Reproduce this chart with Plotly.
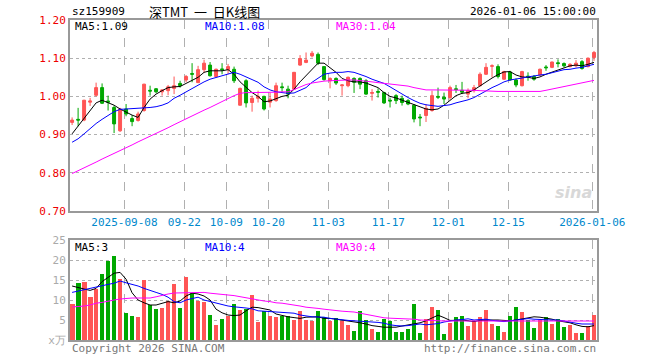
import plotly.graph_objects as go

# ---------------- data ----------------
opens = [0.932,0.940,0.938,0.985,1.003,1.023,0.988,0.971,0.910,0.967,
         0.942,0.937,0.963,1.016,1.020,1.012,1.015,1.021,1.034,1.043,
         1.060,1.036,1.070,1.082,1.052,1.072,1.070,1.071,0.977,1.041,
         0.984,0.995,1.000,0.985,0.989,1.025,1.019,1.019,1.082,1.089,
         1.106,1.110,1.078,1.041,1.047,1.028,1.028,1.047,1.047,1.041,
         1.008,1.013,1.010,0.990,1.002,0.995,0.989,0.977,0.946,0.950,
         0.963,1.000,0.998,0.997,1.020,1.016,1.006,1.015,1.028,1.058,
         1.079,1.078,1.045,1.064,1.043,1.028,1.053,1.052,1.056,1.077,
         1.076,1.088,1.086,1.078,1.080,1.091,1.078,1.102]
closes = [0.938,0.938,0.990,0.988,1.023,0.982,0.985,0.928,0.967,0.954,
          0.934,0.954,1.032,1.014,1.012,1.017,1.025,1.028,1.028,1.052,
          1.058,1.070,1.087,1.054,1.071,1.070,1.078,1.041,1.021,0.983,
          0.995,1.000,0.967,0.993,1.028,1.023,1.006,1.063,1.099,1.095,
          1.113,1.087,1.044,1.047,1.035,1.030,1.050,1.037,1.032,1.006,
          1.010,1.011,0.983,0.988,0.989,0.984,0.980,0.941,0.944,0.969,
          1.002,0.998,0.993,1.023,1.018,1.011,1.015,1.023,1.058,1.076,
          1.080,1.052,1.065,1.043,1.030,1.065,1.051,1.045,1.071,1.075,
          1.090,1.086,1.080,1.084,1.087,1.073,1.100,1.115]
highs = [0.945,0.970,0.991,0.996,1.036,1.034,1.002,0.976,0.970,0.980,
         0.951,0.960,1.033,1.028,1.022,1.019,1.030,1.052,1.041,1.056,
         1.087,1.080,1.096,1.090,1.073,1.087,1.085,1.078,1.023,1.045,
         1.002,1.015,1.002,1.010,1.036,1.036,1.028,1.064,1.108,1.115,
         1.119,1.115,1.078,1.050,1.050,1.032,1.052,1.050,1.050,1.045,
         1.019,1.021,1.012,0.997,1.006,1.002,0.993,0.980,0.954,0.980,
         1.015,1.023,1.010,1.028,1.030,1.038,1.021,1.030,1.063,1.087,
         1.084,1.084,1.067,1.067,1.047,1.067,1.063,1.056,1.073,1.082,
         1.091,1.097,1.089,1.087,1.095,1.095,1.102,1.119]
lows = [0.925,0.922,0.935,0.975,1.000,0.980,0.963,0.904,0.907,0.948,
        0.922,0.934,0.960,1.002,1.008,1.002,1.003,1.006,1.023,1.037,
        1.037,1.035,1.062,1.052,1.050,1.058,1.058,1.035,0.976,0.971,
        0.960,0.984,0.963,0.971,0.986,1.012,0.995,1.017,1.080,1.087,
        1.102,1.082,1.041,1.021,1.030,1.002,1.024,1.009,1.019,1.004,
        0.989,0.997,0.980,0.971,0.980,0.976,0.977,0.932,0.922,0.933,
        0.960,0.993,0.980,0.991,1.009,1.006,0.995,1.010,1.026,1.056,
        1.050,1.047,1.043,1.041,1.024,1.026,1.041,1.041,1.054,1.067,
        1.074,1.076,1.076,1.076,1.076,1.070,1.076,1.093]

ma5 = [0.902,0.922,0.941,0.963,0.983,0.990,0.984,0.977,0.967,0.958,
       0.951,0.945,0.971,0.993,1.006,1.015,1.023,1.025,1.026,1.034,
       1.041,1.050,1.063,1.067,1.067,1.067,1.070,1.058,1.038,1.023,
       1.010,1.000,0.986,0.988,0.995,1.000,1.003,1.019,1.038,1.054,
       1.071,1.087,1.087,1.076,1.063,1.047,1.041,1.038,1.038,1.035,
       1.030,1.023,1.010,1.000,0.996,0.990,0.984,0.977,0.971,0.967,
       0.965,0.967,0.977,0.990,1.002,1.008,1.010,1.017,1.028,1.037,
       1.048,1.057,1.064,1.065,1.056,1.051,1.050,1.047,1.051,1.058,
       1.064,1.069,1.076,1.080,1.082,1.080,1.084,1.089]
ma10 = [0.880,0.889,0.902,0.916,0.929,0.940,0.951,0.960,0.966,0.967,
        0.967,0.968,0.969,0.971,0.973,0.977,0.983,0.995,1.003,1.012,
        1.021,1.030,1.038,1.045,1.050,1.054,1.060,1.063,1.058,1.051,
        1.045,1.037,1.025,1.017,1.012,1.010,1.008,1.009,1.015,1.023,
        1.037,1.047,1.058,1.061,1.063,1.063,1.065,1.063,1.058,1.052,
        1.045,1.039,1.034,1.025,1.015,1.006,0.997,0.989,0.982,0.978,
        0.976,0.974,0.976,0.978,0.983,0.987,0.991,0.997,1.006,1.015,
        1.023,1.030,1.038,1.043,1.045,1.048,1.051,1.054,1.056,1.058,
        1.063,1.066,1.070,1.071,1.074,1.076,1.080,1.084]
ma30 = [0.798,0.805,0.812,0.820,0.828,0.836,0.843,0.851,0.858,0.866,
        0.873,0.881,0.888,0.896,0.903,0.911,0.918,0.926,0.934,0.941,
        0.949,0.956,0.964,0.971,0.979,0.987,0.995,1.002,1.008,1.010,
        1.010,1.010,1.011,1.011,1.011,1.012,1.012,1.018,1.025,1.031,
        1.035,1.038,1.040,1.041,1.042,1.043,1.043,1.043,1.042,1.040,
        1.038,1.036,1.034,1.032,1.030,1.029,1.027,1.023,1.019,1.017,
        1.017,1.017,1.017,1.017,1.017,1.017,1.017,1.016,1.015,1.014,
        1.013,1.013,1.013,1.013,1.013,1.013,1.013,1.013,1.013,1.016,
        1.019,1.022,1.025,1.028,1.031,1.035,1.038,1.042]

volume = [9.0,14.2,14.4,10.7,12.7,16.5,19.75,21.0,15.25,6.7,
          6.0,5.75,15.0,8.75,7.75,8.0,9.8,14.0,8.0,15.75,
          11.8,9.75,9.5,6.25,3.75,5.25,6.0,9.0,7.5,7.75,
          11.25,4.6,7.25,6.1,5.75,6.1,6.0,5.0,7.25,5.0,
          4.8,7.25,5.8,4.75,5.4,4.8,3.75,2.2,7.25,5.0,
          2.75,2.0,5.25,4.75,2.0,2.0,2.75,9.0,1.8,5.25,
          8.25,7.5,1.5,4.3,5.7,6.0,3.5,4.8,5.8,7.5,
          4.0,3.5,2.0,6.0,8.25,7.0,5.0,2.9,5.0,5.7,
          4.0,5.2,3.2,3.7,1.8,1.8,3.6,6.25]
vma5 = [13.5,13.2,12.75,12.4,12.9,14.6,15.7,16.7,16.9,15.2,
        11.8,10.0,9.3,8.75,8.75,9.2,9.6,9.3,9.75,11.0,
        11.7,11.5,11.0,10.0,7.7,6.8,6.25,6.1,6.25,7.3,
        8.2,8.1,7.8,7.5,6.5,6.1,5.8,5.6,5.4,5.7,
        5.8,5.8,5.4,5.4,5.2,5.0,4.8,4.6,4.3,4.0,
        3.6,3.4,3.2,3.2,3.2,3.5,3.8,4.0,4.3,4.8,
        5.6,6.2,5.6,4.9,4.9,5.0,4.8,4.6,4.9,5.0,
        5.0,5.0,4.9,4.8,5.0,5.3,5.6,5.8,5.7,5.5,
        5.2,4.8,4.6,4.3,3.8,3.4,3.3,3.6]
vma10 = [11.9,12.25,12.5,12.9,13.3,13.7,13.9,14.2,14.75,14.3,
         13.9,13.5,12.9,12.3,11.9,11.4,10.7,9.6,9.3,10.0,
         10.4,10.7,10.0,9.6,9.2,8.75,8.5,8.3,8.2,8.0,
         7.8,7.3,7.2,7.1,7.0,7.0,6.9,6.7,6.25,6.0,
         5.8,5.75,5.7,5.4,5.2,5.0,4.9,4.8,4.7,4.65,
         4.6,4.4,4.2,3.8,3.6,3.5,3.6,3.8,4.0,3.8,
         3.9,4.1,4.5,4.8,5.0,5.1,5.3,5.0,5.1,5.2,
         4.9,4.75,4.6,4.8,5.0,5.3,5.35,5.2,5.1,5.0,
         5.0,5.0,4.7,4.4,4.2,4.0,4.0,4.0]
vma30 = [8.25,8.3,8.5,8.75,9.2,9.4,9.75,10.0,10.25,10.4,
         10.5,10.5,10.5,10.5,10.8,11.2,11.5,11.75,11.8,11.9,
         11.9,11.9,11.9,11.7,11.6,11.4,11.25,11.1,10.8,10.6,
         10.25,10.0,9.75,9.6,9.3,9.2,9.0,8.75,8.5,8.2,
         8.1,7.9,7.7,7.5,7.3,7.2,7.1,7.0,6.7,6.4,
         6.0,5.7,5.55,5.45,5.4,5.35,5.3,5.2,5.0,4.9,
         4.8,4.75,4.75,4.75,4.75,4.75,4.75,4.75,4.75,4.75,
         4.75,4.7,4.6,4.65,4.75,4.75,4.75,4.75,4.75,4.75,
         4.75,4.75,4.75,4.75,4.75,4.75,4.75,4.75]

tick_index = [9, 19, 26, 33, 43, 53, 63, 73, 87]
tick_labels = ["2025-09-08", "09-22", "10-09", "10-20", "11-03",
               "11-17", "12-01", "12-15", "2026-01-06"]
price_ticks = [0.70, 0.80, 0.90, 1.00, 1.10, 1.20]
vol_ticks = [0, 5, 10, 15, 20, 25]
vol_tick_labels = ["x万", "5", "10", "15", "20", "25"]

# ---------------- figure ----------------
W, H = 660, 360
RED = "#ff5555"
GREEN = "#00a800"
MONO = "DejaVu Sans Mono"

n = len(closes)
xs = list(range(n))
vcolors = [RED if c >= o else GREEN for o, c in zip(opens, closes)]

fig = go.Figure()
fig.add_trace(go.Candlestick(
    x=xs, open=opens, high=highs, low=lows, close=closes,
    increasing=dict(line=dict(color=RED, width=1), fillcolor=RED),
    decreasing=dict(line=dict(color=GREEN, width=1), fillcolor=GREEN),
    whiskerwidth=0, xaxis="x", yaxis="y", hoverinfo="skip"))
for arr, col in [(ma5, "black"), (ma10, "#0000ff"), (ma30, "#ff00ff")]:
    fig.add_trace(go.Scatter(x=xs, y=arr, mode="lines",
                             line=dict(color=col, width=1),
                             xaxis="x", yaxis="y", hoverinfo="skip"))
fig.add_trace(go.Bar(x=xs, y=volume, marker=dict(color=vcolors, line=dict(width=0)),
                     width=0.8, xaxis="x2", yaxis="y2", hoverinfo="skip"))
for arr, col in [(vma5, "black"), (vma10, "#0000ff"), (vma30, "#ff00ff")]:
    fig.add_trace(go.Scatter(x=xs, y=arr, mode="lines",
                             line=dict(color=col, width=1),
                             xaxis="x2", yaxis="y2", hoverinfo="skip"))

x0, x1 = 70 / W, 597 / W
tickpos = [t - 0.28 for t in tick_index]
xr = [-0.35, n - 0.5]
frame = dict(showline=True, mirror=True, linecolor="#999999", linewidth=2,
             automargin=False)

fig.update_layout(
    width=W, height=H, margin=dict(l=0, r=0, t=0, b=0, autoexpand=False),
    paper_bgcolor="white", plot_bgcolor="white", showlegend=False,
    bargap=0,
    xaxis=dict(domain=[x0, x1], range=xr, tickvals=tickpos, ticktext=tick_labels,
               showgrid=True, gridcolor="#b0b0b0", griddash="dash", gridwidth=1,
               tickfont=dict(family=MONO, size=11, color="#0088cc"),
               ticks="", zeroline=False, rangeslider=dict(visible=False),
               anchor="y", fixedrange=True, **frame),
    yaxis=dict(domain=[1 - 211 / H, 1 - 20 / H], range=[0.70, 1.20],
               tickvals=price_ticks, ticktext=[f"{v:.2f}" for v in price_ticks],
               showgrid=True, gridcolor="#b0b0b0", griddash="dot", gridwidth=1,
               tickfont=dict(family=MONO, size=11, color="#ee0000"),
               ticks="", zeroline=False, anchor="x", fixedrange=True, **frame),
    xaxis2=dict(domain=[x0, x1], range=xr, tickvals=tickpos, showticklabels=False,
                showgrid=True, gridcolor="#b0b0b0", griddash="dash", gridwidth=1,
                ticks="", zeroline=False, anchor="y2", fixedrange=True, **frame),
    yaxis2=dict(domain=[1 - 340 / H, 1 - 240 / H], range=[0, 25],
                tickvals=vol_ticks, ticktext=vol_tick_labels,
                showgrid=True, gridcolor="#b0b0b0", griddash="dot", gridwidth=1,
                tickfont=dict(family=MONO, size=11, color="#aaaaaa"),
                ticks="", zeroline=False, anchor="x2", fixedrange=True, **frame),
)

def label(x, y, text, color="black", size=10, xanchor="left", family=MONO, **kw):
    fig.add_annotation(x=x / W, y=1 - y / H, xref="paper", yref="paper",
                       text=text, showarrow=False, xanchor=xanchor, yanchor="middle",
                       font=dict(family=family, size=size, color=color), **kw)

label(70, 12, "sz159909", size=11)
label(147, 12, "深TMT\u00a0\u00a0一\u00a0\u00a0日K线图", size=13, xanchor="left",
      family="Noto Sans CJK SC")
label(598, 12, "2026-01-06 15:00:00", size=11, xanchor="right")
label(73, 27, f"MA5:{ma5[-1]:.2f}", size=11)
label(203, 27, f"MA10:{ma10[-1]:.2f}", color="#0000ff", size=11)
label(334, 27, f"MA30:{ma30[-1]:.2f}", color="#ff00ff", size=11)
label(73, 247, f"MA5:{int(vma5[-1])}", size=11)
label(203, 247, f"MA10:{int(vma10[-1])}", color="#0000ff", size=11)
label(334, 247, f"MA30:{int(vma30[-1])}", color="#ff00ff", size=11)
label(70, 348, "Copyright 2026 SINA.COM", color="#777777", size=11)
label(598, 348, "http://finance.sina.com.cn", color="#777777", size=11, xanchor="right")
label(594, 192, "<b><i>sina</i></b>", color="#d8d8d8", size=16, xanchor="right",
      family="DejaVu Sans")

fig.write_html("out.html", config={"displayModeBar": False, "staticPlot": True},
               post_script="document.body.style.margin='0';"
                           "document.body.style.overflow='hidden';")
